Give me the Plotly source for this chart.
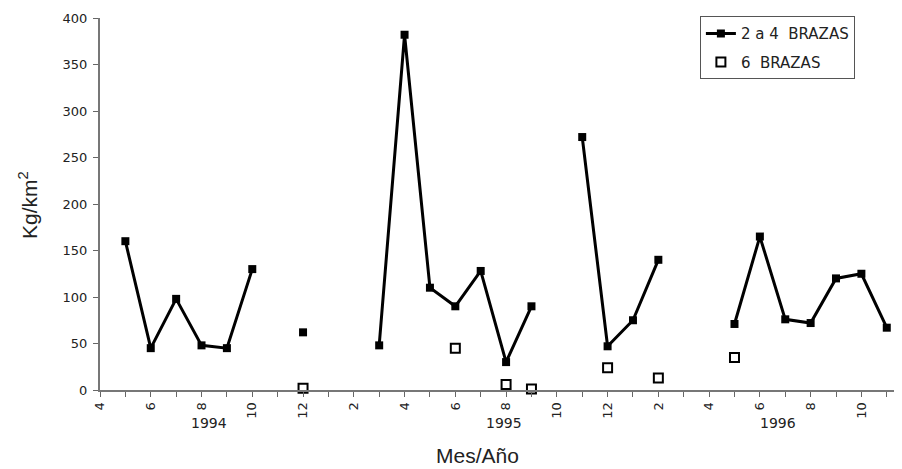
import plotly.graph_objects as go

# Month index 0 = April 1994 ... 31 = November 1996
month_index = list(range(32))
tick_labels = ["4", "", "6", "", "8", "", "10", "", "12", "", "2", "", "4", "", "6", "", "8", "",
               "10", "", "12", "", "2", "", "4", "", "6", "", "8", "", "10", ""]
brazas_2_4 = [None, 160, 45, 98, 48, 45, 130, None, 62, None, None, 48, 382, 110, 90, 128, 30, 90,
              None, 272, 47, 75, 140, None, None, 71, 165, 76, 72, 120, 125, 67]
brazas_6 = [None, None, None, None, None, None, None, None, 2, None, None, None, None, None, 45, None,
            6, 1, None, None, 24, None, 13, None, None, 35, None, None, None, None, None, None]
year_labels = ["1994", "1995", "1996"]
year_positions = [4.3, 15.9, 26.7]

TICKFONT = "DejaVu Sans"

fig = go.Figure()
fig.add_trace(go.Scatter(
    x=month_index, y=brazas_2_4, mode="lines+markers", name="2 a 4  BRAZAS", legendgroup="a",
    line=dict(color="black", width=3), connectgaps=False,
    marker=dict(symbol="square", size=8, color="black"), cliponaxis=False))
fig.add_trace(go.Scatter(
    x=month_index, y=brazas_6, mode="markers", name="6  BRAZAS", legendgroup="b",
    marker=dict(symbol="square-open", size=9, color="black", line=dict(width=2)),
    cliponaxis=False))

for lbl, pos in zip(year_labels, year_positions):
    fig.add_annotation(x=pos, xref="x", y=-0.088, yref="paper", text=lbl, showarrow=False,
                       font=dict(family=TICKFONT, size=14, color="#222"), yanchor="middle")

fig.add_annotation(x=0.471, xref="paper", y=-0.175, yref="paper", text="Mes/Año", showarrow=False,
                   font=dict(size=21, color="#222"), yanchor="middle")
fig.add_annotation(x=-0.09, xref="paper", y=0.497, yref="paper", text="Kg/km<sup>2</sup>",
                   showarrow=False, textangle=-90, font=dict(size=21, color="#222"),
                   xanchor="center", yanchor="middle")

fig.update_layout(
    width=894, height=461,
    margin=dict(l=92, r=0, t=10, b=79),
    paper_bgcolor="white", plot_bgcolor="white",
    font=dict(family="Liberation Sans, Arial", size=11, color="#333"),
    showlegend=True,
    legend=dict(x=0.748, xanchor="left", y=1.005, yanchor="top", bordercolor="#555", borderwidth=1,
                bgcolor="white", font=dict(family=TICKFONT, size=15, color="#222"),
                tracegroupgap=6, traceorder="grouped"),
    xaxis=dict(range=[0, 31.6], tickmode="array", tickvals=month_index, ticktext=tick_labels,
               tickangle=-90, ticks="outside", ticklen=5, tickcolor="#666", showline=True,
               linecolor="#777", linewidth=2, showgrid=False, zeroline=False,
               tickfont=dict(family=TICKFONT, size=13, color="#222")),
    yaxis=dict(range=[0, 400], tickvals=[0, 50, 100, 150, 200, 250, 300, 350, 400],
               ticks="outside", ticklen=5, tickcolor="#666", showline=True, linecolor="#777",
               linewidth=2, showgrid=False, zeroline=False, ticklabelstandoff=3,
               tickfont=dict(family=TICKFONT, size=13, color="#222")),
)

fig.write_html("out.html")
